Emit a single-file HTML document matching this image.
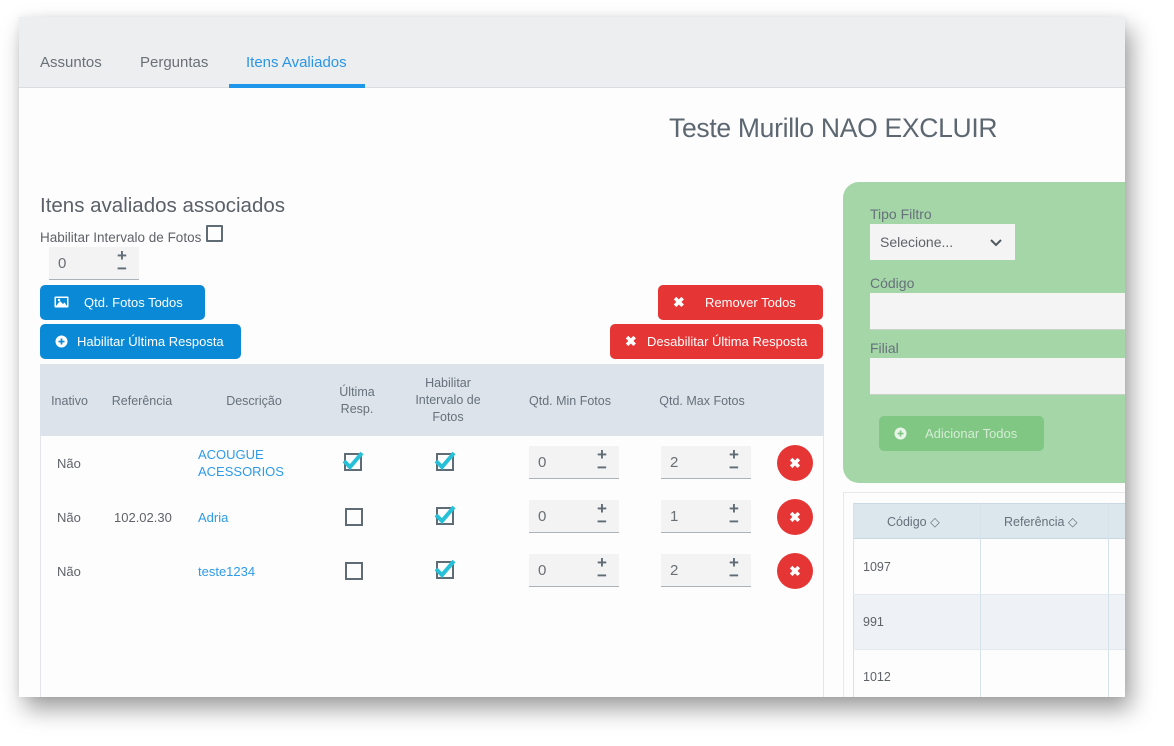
<!DOCTYPE html>
<html><head><meta charset="utf-8">
<style>
*{margin:0;padding:0;box-sizing:border-box}
body{width:1174px;height:746px;background:#fff;font-family:"Liberation Sans",Arial,sans-serif;position:relative;overflow:hidden}
.a{position:absolute}
#panel{left:19px;top:17px;width:1106px;height:680px;background:#fdfdfd;overflow:hidden;box-shadow:6px 12px 22px rgba(0,0,0,.38),0 0 8px rgba(0,0,0,.06)}
.tabs{left:0;top:0;width:1106px;height:71px;background:#eceef0;border-bottom:1px solid #dadde0}
.tab{top:37px;font-size:15px;color:#6a7077}
.btn{color:#fff;font-size:13px;border-radius:5px;line-height:35px;height:35px}
.blue{background:#0a8ad6}
.red{background:#e53535}
.th{font-size:12.5px;color:#66717b;text-align:center;line-height:17px}
.td{font-size:13px;color:#5f6368}
.lnk{font-size:13px;color:#2e9be8;line-height:17px}
.num{width:90px;height:33px;background:#f3f3f3;border-bottom:1.5px solid #aab3ba}
.num .v{position:absolute;left:9px;top:8px;font-size:15px;color:#6a6f74}
.num .p{position:absolute;left:68px;top:-1px;font-size:17px;font-weight:bold;color:#5f6b75}
.num .m{position:absolute;left:68px;top:12px;font-size:17px;font-weight:bold;color:#5f6b75}
.del{width:36px;height:36px;border-radius:50%;background:#e53535;color:#fff;text-align:center;line-height:36px;font-size:14px;font-weight:bold}
.lbl{font-size:14px;color:#66717b}
.inp{background:#f4f4f4;border-bottom:1px solid #c9d1c9}
</style></head><body>
<div id="panel" class="a">
  <div class="a tabs">
    <div class="a tab" style="left:21px">Assuntos</div>
    <div class="a tab" style="left:121px">Perguntas</div>
    <div class="a tab" style="left:227px;color:#2a96e6">Itens Avaliados</div>
    <div class="a" style="left:210px;top:67px;width:136px;height:4px;background:#1e96ea"></div>
  </div>
  <div class="a" style="left:650px;top:96px;font-size:26.5px;color:#5d6771;letter-spacing:-0.3px">Teste Murillo NAO EXCLUIR</div>

  <div class="a" style="left:21px;top:177px;font-size:20.5px;color:#5a6168">Itens avaliados associados</div>
  <div class="a" style="left:21px;top:213px;font-size:13.5px;color:#5f6368">Habilitar Intervalo de Fotos</div>
  <div class="a" style="left:187px;top:208px;width:17px;height:17px;border:2px solid #5f6b75;border-radius:1px"></div>
  <div class="a num" style="left:30px;top:230px"><span class="v">0</span><span class="p">+</span><span class="m">−</span></div>

  <div class="a btn blue" style="left:21px;top:268px;width:165px"><svg class="a" style="left:14px;top:11px" width="15" height="12" viewBox="0 0 15 12"><rect x="0.5" y="0.5" width="14" height="11" rx="1" fill="#fff"/><rect x="2" y="2" width="11" height="8" fill="#0a8ad6"/><polygon points="2,10 6,5 9,8 10.5,6.5 13,10" fill="#fff"/><circle cx="5" cy="4" r="1.2" fill="#fff"/></svg><span class="a" style="left:44px;top:0">Qtd. Fotos Todos</span></div>
  <div class="a btn blue" style="left:21px;top:307px;width:201px"><svg class="a" style="left:15px;top:11px" width="13" height="13"><circle cx="6.5" cy="6.5" r="6" fill="#fff"/><rect x="3.5" y="5.7" width="6" height="1.7" fill="#0a8ad6"/><rect x="5.65" y="3.5" width="1.7" height="6" fill="#0a8ad6"/></svg><span class="a" style="left:37px;top:0">Habilitar Última Resposta</span></div>
  <div class="a btn red" style="left:639px;top:268px;width:165px"><span class="a" style="left:15px;top:0;font-weight:bold;font-size:14px">✖</span><span class="a" style="left:47px;top:0">Remover Todos</span></div>
  <div class="a btn red" style="left:591px;top:307px;width:213px"><span class="a" style="left:15px;top:0;font-weight:bold;font-size:14px">✖</span><span class="a" style="left:37px;top:0">Desabilitar Última Resposta</span></div>

  <!-- table -->
  <div class="a" style="left:21px;top:347px;width:784px;height:340px;border-left:1px solid #e3e6e8;border-right:1px solid #e3e6e8"></div>
  <div class="a" style="left:21px;top:347px;width:784px;height:72px;background:#dce3ea"></div>
  <div class="a th" style="left:22px;top:376px;width:57px">Inativo</div>
  <div class="a th" style="left:85px;top:376px;width:76px">Referência</div>
  <div class="a th" style="left:190px;top:376px;width:90px">Descrição</div>
  <div class="a th" style="left:303px;top:367px;width:70px">Última<br>Resp.</div>
  <div class="a th" style="left:384px;top:358px;width:90px">Habilitar<br>Intervalo de<br>Fotos</div>
  <div class="a th" style="left:500px;top:376px;width:102px">Qtd. Min Fotos</div>
  <div class="a th" style="left:632px;top:376px;width:102px">Qtd. Max Fotos</div>

  <!-- rows -->
  <div class="a td" style="left:38px;top:439px">Não</div>
  <div class="a lnk" style="left:179px;top:429px">ACOUGUE<br>ACESSORIOS</div>
  <div class="a td" style="left:38px;top:493px">Não</div>
  <div class="a td" style="left:95px;top:493px">102.02.30</div>
  <div class="a lnk" style="left:179px;top:492px">Adria</div>
  <div class="a td" style="left:38px;top:547px">Não</div>
  <div class="a lnk" style="left:179px;top:546px">teste1234</div>

  <!-- checkboxes -->
  <svg class="a" style="left:323px;top:432px" width="26" height="24"><rect x="3" y="5" width="16" height="16" fill="none" stroke="#5f6b75" stroke-width="2"/><polyline points="2,12 8,18 20,4" fill="none" stroke="#26c0d8" stroke-width="4"/></svg>
  <svg class="a" style="left:415px;top:432px" width="26" height="24"><rect x="3" y="5" width="16" height="16" fill="none" stroke="#5f6b75" stroke-width="2"/><polyline points="2,12 8,18 20,4" fill="none" stroke="#26c0d8" stroke-width="4"/></svg>
  <div class="a" style="left:326px;top:491px;width:18px;height:18px;border:2px solid #5f6b75"></div>
  <svg class="a" style="left:415px;top:486px" width="26" height="24"><rect x="3" y="5" width="16" height="16" fill="none" stroke="#5f6b75" stroke-width="2"/><polyline points="2,12 8,18 20,4" fill="none" stroke="#26c0d8" stroke-width="4"/></svg>
  <div class="a" style="left:326px;top:545px;width:18px;height:18px;border:2px solid #5f6b75"></div>
  <svg class="a" style="left:415px;top:540px" width="26" height="24"><rect x="3" y="5" width="16" height="16" fill="none" stroke="#5f6b75" stroke-width="2"/><polyline points="2,12 8,18 20,4" fill="none" stroke="#26c0d8" stroke-width="4"/></svg>

  <div class="a num" style="left:510px;top:429px"><span class="v">0</span><span class="p">+</span><span class="m">−</span></div>
  <div class="a num" style="left:642px;top:429px"><span class="v">2</span><span class="p">+</span><span class="m">−</span></div>
  <div class="a num" style="left:510px;top:483px"><span class="v">0</span><span class="p">+</span><span class="m">−</span></div>
  <div class="a num" style="left:642px;top:483px"><span class="v">1</span><span class="p">+</span><span class="m">−</span></div>
  <div class="a num" style="left:510px;top:537px"><span class="v">0</span><span class="p">+</span><span class="m">−</span></div>
  <div class="a num" style="left:642px;top:537px"><span class="v">2</span><span class="p">+</span><span class="m">−</span></div>
  <div class="a del" style="left:758px;top:428px">✖</div>
  <div class="a del" style="left:758px;top:482px">✖</div>
  <div class="a del" style="left:758px;top:536px">✖</div>

  <!-- right green panel -->
  <div class="a" style="left:824px;top:165px;width:320px;height:301px;background:#a5d6a7;border-radius:16px"></div>
  <div class="a lbl" style="left:851px;top:189px">Tipo Filtro</div>
  <div class="a" style="left:851px;top:207px;width:145px;height:36px;background:#f4f4f4"><span class="a" style="left:10px;top:10px;font-size:14px;color:#5f6368">Selecione...</span><svg class="a" style="left:120px;top:15px" width="12" height="8"><polyline points="1,1 6,6 11,1" fill="none" stroke="#4f5860" stroke-width="2"/></svg></div>
  <div class="a lbl" style="left:851px;top:258px">Código</div>
  <div class="a inp" style="left:851px;top:276px;width:260px;height:37px"></div>
  <div class="a lbl" style="left:851px;top:323px">Filial</div>
  <div class="a inp" style="left:851px;top:341px;width:260px;height:37px"></div>
  <div class="a" style="left:860px;top:399px;width:165px;height:35px;background:#81c784;border-radius:5px"><svg class="a" style="left:15px;top:11px" width="13" height="13"><circle cx="6.5" cy="6.5" r="6" fill="#e8f5e9"/><rect x="3.5" y="5.7" width="6" height="1.7" fill="#81c784"/><rect x="5.65" y="3.5" width="1.7" height="6" fill="#81c784"/></svg><span class="a" style="left:46px;top:10px;font-size:13px;color:#d4ecd5">Adicionar Todos</span></div>

  <!-- right table -->
  <div class="a" style="left:824px;top:475px;width:300px;height:220px;border:1px solid #e6e9eb;border-right:none"></div>
  <div class="a" style="left:834px;top:486px;width:290px;height:36px;background:#dce6ed;border:1px solid #c9d9e4;border-right:none"></div>
  <div class="a" style="left:834px;top:577px;width:290px;height:55px;background:#eef2f6"></div>
  <div class="a" style="left:834px;top:486px;width:1px;height:200px;background:#d5e2ea"></div>
  <div class="a" style="left:961px;top:486px;width:1px;height:200px;background:#d5e2ea"></div>
  <div class="a" style="left:1089px;top:486px;width:1px;height:200px;background:#d5e2ea"></div>
  <div class="a" style="left:834px;top:577px;width:290px;height:1px;background:#e2e9ef"></div>
  <div class="a" style="left:834px;top:632px;width:290px;height:1px;background:#e2e9ef"></div>
  <div class="a" style="left:868px;top:497px;font-size:12.5px;color:#66717b">Código ◇</div>
  <div class="a" style="left:985px;top:497px;font-size:12.5px;color:#66717b">Referência ◇</div>
  <div class="a" style="left:844px;top:543px;font-size:12.5px;color:#5f6368">1097</div>
  <div class="a" style="left:844px;top:598px;font-size:12.5px;color:#5f6368">991</div>
  <div class="a" style="left:844px;top:653px;font-size:12.5px;color:#5f6368">1012</div>
</div>
</body></html>
